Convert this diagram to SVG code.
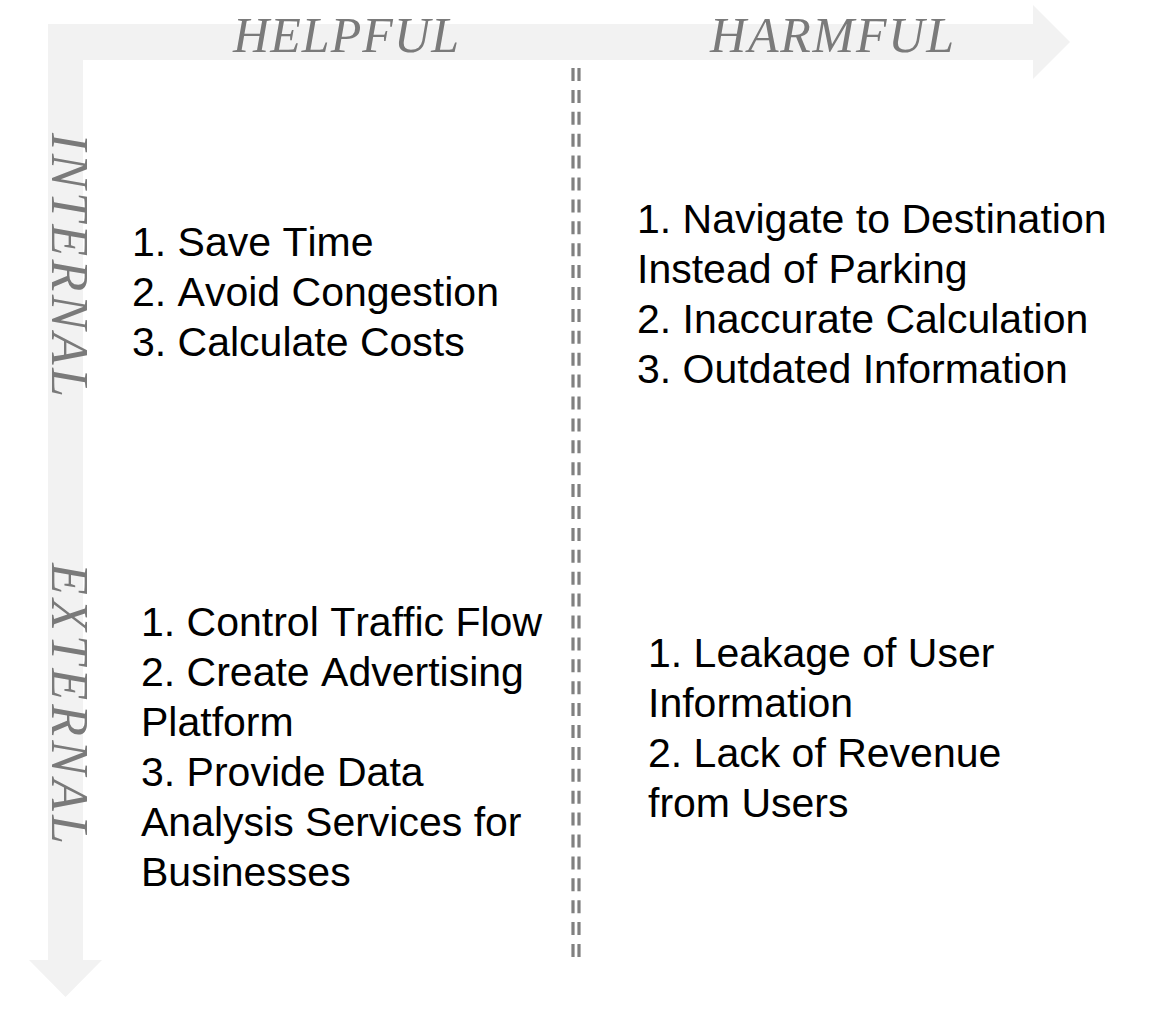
<svg xmlns="http://www.w3.org/2000/svg" width="1170" height="1017" viewBox="0 0 1170 1017">
<style>
.axis{font-family:"Liberation Serif","Times New Roman",serif;font-style:italic;fill:#7a7a7a;}
.item{font-family:"Liberation Sans",Arial,sans-serif;font-size:41px;fill:#000;font-kerning:none;font-feature-settings:"kern" 0;}
.div{stroke:#808080;stroke-width:3.2;stroke-dasharray:13 8.9;fill:none;}
</style>
<rect width="1170" height="1017" fill="#fff"/>
<g id="axes">
<path d="M48,24 H1033 V5 L1070,42 L1033,79 V60 H83 V960 H102 L65.5,997 L29,960 H48 Z" fill="#f2f2f2"/>
</g>
<g id="connectors">
<line class="div" x1="573" y1="68" x2="573" y2="958"/>
<line class="div" x1="579" y1="68" x2="579" y2="958"/>
</g>
<g id="label-helpful"><text class="axis" x="233" y="52" font-size="50" textLength="226" lengthAdjust="spacing">HELPFUL</text></g>
<g id="label-harmful"><text class="axis" x="710" y="52" font-size="50" textLength="244" lengthAdjust="spacing">HARMFUL</text></g>
<g id="label-internal"><text class="axis" transform="translate(52,133) rotate(90)" font-size="52" textLength="264" lengthAdjust="spacing">INTERNAL</text></g>
<g id="label-external"><text class="axis" transform="translate(52,563) rotate(90)" font-size="52" textLength="281" lengthAdjust="spacing">EXTERNAL</text></g>
<g id="strengths">
<text class="item" x="132" y="256" font-size="41.5">1. Save Time</text>
<text class="item" x="132" y="306" font-size="41.5">2. Avoid Congestion</text>
<text class="item" x="132" y="356" font-size="41.5">3. Calculate Costs</text>
</g>
<g id="weaknesses">
<text class="item" x="637" y="233">1. Navigate to Destination</text>
<text class="item" x="637" y="283">Instead of Parking</text>
<text class="item" x="637" y="333">2. Inaccurate Calculation</text>
<text class="item" x="637" y="383">3. Outdated Information</text>
</g>
<g id="opportunities">
<text class="item" x="141" y="636" font-size="41.8">1. Control Traffic Flow</text>
<text class="item" x="141" y="686" font-size="41.8">2. Create Advertising</text>
<text class="item" x="141" y="736" font-size="41.8">Platform</text>
<text class="item" x="141" y="786" font-size="41.8">3. Provide Data</text>
<text class="item" x="141" y="836" font-size="41.8">Analysis Services for</text>
<text class="item" x="141" y="886" font-size="41.8">Businesses</text>
</g>
<g id="threats">
<text class="item" x="648" y="667" font-size="41.5">1. Leakage of User</text>
<text class="item" x="648" y="717" font-size="41.5">Information</text>
<text class="item" x="648" y="767" font-size="41.5">2. Lack of Revenue</text>
<text class="item" x="648" y="817" font-size="41.5">from Users</text>
</g>
</svg>
